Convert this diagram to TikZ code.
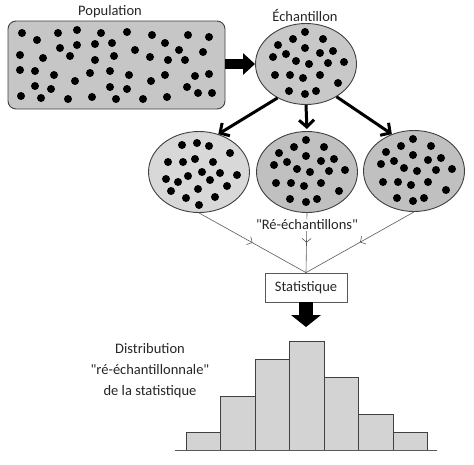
\documentclass[tikz,border=0pt]{standalone}
\usepackage{fontspec}
\setmainfont{Carlito}
\usetikzlibrary{shapes.geometric,arrows.meta,decorations.markings}
\definecolor{edgegray}{HTML}{404040}
\definecolor{thingray}{HTML}{595959}
\definecolor{popfill}{HTML}{C6C6C6}
\definecolor{sampfill}{HTML}{C8C8C8}
\definecolor{lightfill}{HTML}{D8D8D8}
\definecolor{darkfill}{HTML}{C0C0C0}
\definecolor{barfill}{HTML}{D3D3D3}
\definecolor{txt}{HTML}{262626}
\newcommand\sampledots{-1/-32,-28/-19,-13/-25,17/-25,-1/-16,-20/-10,-33/-7,14/-11,27/-13,-10/-3,3/0,22/-1,38/-2,-31/11,-16/11,-3/14,14/11,32/19,-17/27,-1/30,10/27}
\newcommand\leftdots{-17/-27,-2/-29,10/-26,31/-19,-31/-10,-16/-10,-4/-13,14/-10,3/0,21/1,38/3,-11/4,-33/7,-21/10,11/8,28/14,-28/19,-1/17,-13/26,16/25,0/33}
\newcommand\popdots{22/33,37/40,58/33,77/30,101/33,127/32,152/35,188/35,209/37,60/48,77/45,95/44,112/43,165/43,20/55,43/58,70/56,95/60,114/56,135/50,150/57,168/60,179/50,185/60,203/52,20/70,35/71,54/75,75/81,90/73,110/71,129/75,151/81,165/75,195/76,209/74,35/86,51/89,110/87,127/89,187/87,198/93,212/93,21/96,41/98,68/99,92/97,116/99,143/99,167/97}
\begin{document}
\begin{tikzpicture}[x=1pt,y=-1pt,font=\fontsize{14.5}{17}\selectfont,text=txt,
  blob/.style={draw=edgegray,line width=0.9pt,ellipse,minimum width=101pt,minimum height=81pt,inner sep=0pt},
  bigarrow/.style={line width=#1,-{Triangle[width=2.1*#1,length=12pt]}},
  thickarrow/.style={line width=3pt,-{Straight Barb[length=7pt,width=15pt]}},
  thinline/.style={draw=thingray,line width=0.6pt,postaction={decorate},
    decoration={markings,mark=at position 0.5 with {\arrow[thingray,line width=0.6pt]{Straight Barb[length=4pt,width=9pt]}}}},
  bar/.style={draw=edgegray,line width=1pt,fill=barfill},
  label/.style={inner sep=1pt}]
\useasboundingbox (0,0) rectangle (474,464);
% population
\node[draw=edgegray,line width=0.9pt,fill=popfill,rounded corners=8pt,minimum width=217pt,minimum height=88pt] (pop) at (116.5,65) {};
\node[label] (poplab) at (110,12) {Population};
\foreach \dx/\dy in \popdots \fill (\dx,\dy) circle (4);
% sample
\node[blob,fill=sampfill] (samp) at (306,64) {};
\node[label] (samplab) at (305,15) {Échantillon};
\begin{scope}[shift={(samp.center)}]
\foreach \dx/\dy in \sampledots \fill (\dx,\dy) circle (4);
\end{scope}
\draw[bigarrow=10pt] (pop.east |- samp.west) -- (samp.west);
% resamples
\node[blob,fill=lightfill] (r1) at (199,172) {};
\node[blob,fill=darkfill] (r2) at (307,172) {};
\node[blob,fill=darkfill] (r3) at (414,171) {};
\begin{scope}[shift={(r1.center)}]
\foreach \dx/\dy in \leftdots \fill (\dx,\dy) circle (4);
\end{scope}
\begin{scope}[shift={(r2.center)}]
\foreach \dx/\dy in \sampledots \fill (\dx,\dy) circle (4);
\end{scope}
\begin{scope}[shift={(r3.center)}]
\foreach \dx/\dy in \sampledots \fill (\dx,\dy) circle (4);
\end{scope}
\draw[thickarrow] (samp.230) -- (r1.63);
\draw[thickarrow,shorten >=2pt] (samp.south) -- (r2.north);
\draw[thickarrow] (samp.-47) -- (r3.121);
% statistic
\node[draw=thingray,line width=0.8pt,fill=white,minimum width=82pt,minimum height=29pt,inner sep=0pt] (stat) at (306,287.5) {Statistique};
\draw[thinline] (r1.south) -- (stat.north);
\draw[thinline] (r2.south) -- (stat.north);
\draw[thinline] (r3.south) -- (stat.north);
\node[label,fill=white,inner sep=0.5pt] (reslab) at (307,225) {\textquotedbl Ré-échantillons\textquotedbl};
\coordinate (tip) at (stat.south |- 0,327);
\draw[bigarrow=14pt] (stat.south) -- (tip);
% distribution
\node[label,align=center,font=\fontsize{14.5}{21}\selectfont] (distlab) at (150,371) {Distribution\\\textquotedbl ré-échantillonnale\textquotedbl\\de la statistique};
\draw[bar] (186,450) rectangle (220,432);
\draw[bar] (220,450) rectangle (255,396);
\draw[bar] (255,450) rectangle (289,359);
\draw[bar] (289,450) rectangle (324,341);
\draw[bar] (324,450) rectangle (358,377);
\draw[bar] (358,450) rectangle (393,414);
\draw[bar] (393,450) rectangle (427,432);
\coordinate (axl) at (175,450);
\coordinate (axr) at (437,450);
\draw[draw=thingray,line width=1pt] (axl) -- (axr);
\end{tikzpicture}
\end{document}
